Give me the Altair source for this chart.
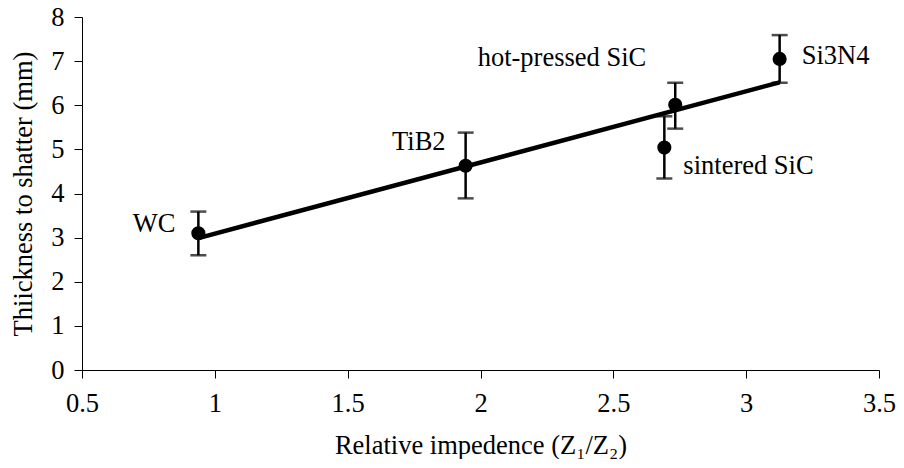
import altair as alt
import pandas as pd

# ---- data ----
names = ["WC", "TiB2", "sintered SiC", "hot-pressed SiC", "Si3N4"]
pts_x = [0.938, 1.944, 2.692, 2.733, 3.126]
pts_y = [3.10, 4.63, 5.04, 6.01, 7.05]
err_lo = [2.60, 3.89, 4.34, 5.47, 6.51]
err_hi = [3.59, 5.38, 5.75, 6.51, 7.59]

trend_x = [0.938, 3.126]
trend_y = [2.99, 6.52]

x_ticks = [0.5, 1, 1.5, 2, 2.5, 3, 3.5]
y_ticks = [0, 1, 2, 3, 4, 5, 6, 7, 8]

# label placement (style, kept apart from the data)
label_style = {
    "WC": dict(align="right", dx=-23, dy=-9),
    "TiB2": dict(align="right", dx=-20, dy=-24),
    "sintered SiC": dict(align="left", dx=19, dy=18),
    "hot-pressed SiC": dict(align="right", dx=-29, dy=-47),
    "Si3N4": dict(align="left", dx=22, dy=-3),
}

FONT = "Liberation Serif"
FS = 26.5

pts = pd.DataFrame({"name": names, "x": pts_x, "y": pts_y, "lo": err_lo, "hi": err_hi})
trend = pd.DataFrame({"x": trend_x, "y": trend_y})

xscale = alt.Scale(domain=[0.5, 3.5], nice=False, zero=False)
yscale = alt.Scale(domain=[0, 8], nice=False)

xaxis = alt.Axis(values=x_ticks, format="~g", grid=False, domainColor="black",
                 tickColor="black", tickSize=8, labelFontSize=FS, labelFont=FONT,
                 labelColor="black", labelPadding=12, labelFlush=False,
                 titleFontSize=FS, titleFont=FONT,
                 titleFontWeight="normal", titleColor="black", titlePadding=16)
yaxis = alt.Axis(values=y_ticks, grid=False, domainColor="black",
                 tickColor="black", tickSize=8, labelFontSize=FS, labelFont=FONT,
                 labelColor="black", labelPadding=10, labelFlush=False,
                 titleFontSize=FS, titleFont=FONT,
                 titleFontWeight="normal", titleColor="black", titlePadding=13)

base = alt.Chart(pts)

bars = base.mark_rule(color="black", strokeWidth=2.5).encode(
    x=alt.X("x:Q", scale=xscale, axis=xaxis, title="Relative impedence (Z₁/Z₂)"),
    y=alt.Y("lo:Q", scale=yscale, axis=yaxis, title="Thiickness to shatter (mm)"),
    y2="hi:Q",
)
cap_lo = base.mark_tick(color="black", size=16, thickness=2.5, orient="horizontal").encode(
    x="x:Q", y="lo:Q")
cap_hi = base.mark_tick(color="black", size=16, thickness=2.5, orient="horizontal").encode(
    x="x:Q", y="hi:Q")

line = alt.Chart(trend).mark_line(color="black", strokeWidth=4.5).encode(
    x="x:Q", y="y:Q")

points = base.mark_circle(color="black", size=200, opacity=1).encode(x="x:Q", y="y:Q")

labels = []
for n in names:
    s = label_style[n]
    labels.append(
        base.transform_filter(alt.datum.name == n)
        .mark_text(font=FONT, fontSize=FS, color="black", baseline="middle",
                   align=s["align"], dx=s["dx"], dy=s["dy"])
        .encode(x="x:Q", y="y:Q", text="name:N")
    )

chart = alt.layer(bars, cap_lo, cap_hi, line, points, *labels).properties(
    width=797, height=353,
    autosize=alt.AutoSizeParams(type="none"),
    padding={"left": 74, "top": 9, "right": 17, "bottom": 89},
    background="white",
).configure_view(stroke=None)

chart.save("out.html", embed_options={"renderer": "svg", "actions": False})
